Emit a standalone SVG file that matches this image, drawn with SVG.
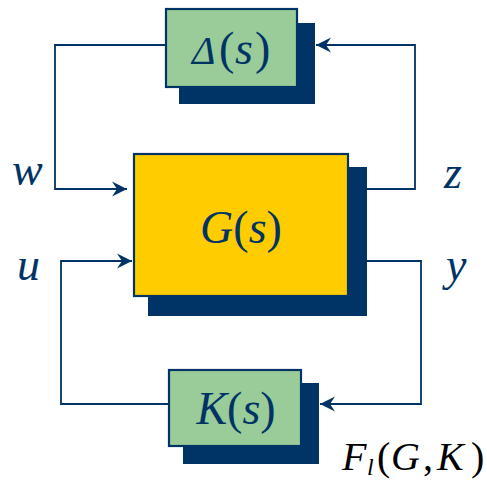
<svg xmlns="http://www.w3.org/2000/svg" width="487" height="480" viewBox="0 0 487 480">
<style>
.sh{fill:#003366}
.fr{stroke:#003366;stroke-width:2.2}
.g{fill:#99CC99}
.y{fill:#FFCC00}
.ln{fill:none;stroke:#003366;stroke-width:1.8;marker-end:url(#ah)}
.t{font-family:"Liberation Serif","Times New Roman",serif;font-size:46px;fill:#003366}
.i{font-style:italic}
.f{font-family:"Liberation Serif","Times New Roman",serif;font-size:40px;fill:#000}
</style>
<defs>
<marker id="ah" markerUnits="userSpaceOnUse" viewBox="-16 -8 17 16" refX="0" refY="0" markerWidth="17" markerHeight="16" orient="auto">
<path d="M0,0 L-15,-7.5 L-10,0 L-15,7.5 Z" fill="#003366"/>
</marker>
</defs>
<g id="connectors">
<path class="ln" d="M165,45 H55 V189 H127"/>
<path class="ln" d="M367,189 H415 V45 H316"/>
<path class="ln" d="M367,261 H421 V404 H320"/>
<path class="ln" d="M168,404 H61 V261 H132"/>
</g>
<g id="delta">
<rect class="sh" x="179" y="23" width="136" height="81"/>
<rect class="g fr" x="166" y="9" width="131" height="78"/>
<text class="t" y="64"><tspan class="i" x="192" style="font-size:40px">Δ</tspan><tspan x="219">(</tspan><tspan class="i" x="235">s</tspan><tspan x="255">)</tspan></text>
</g>
<g id="G">
<rect class="sh" x="148" y="167" width="219" height="149"/>
<rect class="y fr" x="134" y="154" width="214" height="142"/>
<text class="t" x="241" y="243" text-anchor="middle"><tspan class="i">G</tspan>(<tspan class="i">s</tspan>)</text>
</g>
<g id="K">
<rect class="sh" x="183" y="383" width="136" height="81"/>
<rect class="g fr" x="169" y="370" width="132" height="76"/>
<text class="t" x="236" y="424" text-anchor="middle"><tspan class="i">K</tspan>(<tspan class="i">s</tspan>)</text>
</g>
<g id="labels">
<text class="t i" x="12" y="185">w</text>
<text class="t i" x="444" y="188">z</text>
<text class="t i" x="17" y="280">u</text>
<text class="t i" x="446" y="280">y</text>
<text class="f" y="470"><tspan class="i" x="342">F</tspan><tspan class="i" style="font-size:24px" x="367" dy="5">l</tspan><tspan x="377" dy="-5">(</tspan><tspan class="i" x="391">G</tspan><tspan x="423">,</tspan><tspan class="i" x="437">K</tspan><tspan x="471">)</tspan></text>
</g>
</svg>
